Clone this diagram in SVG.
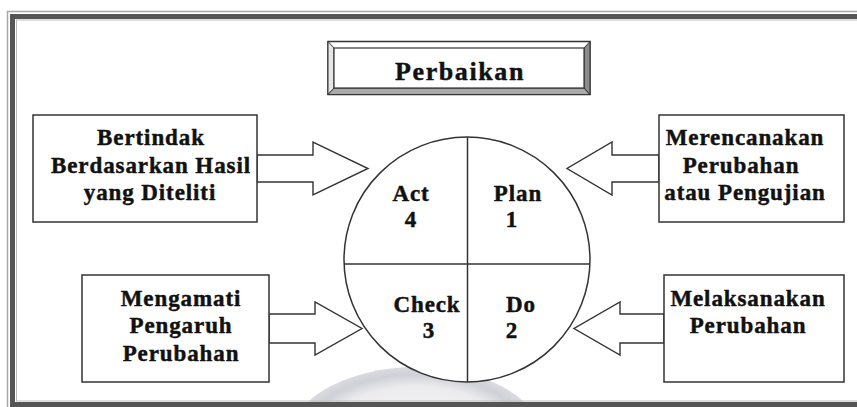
<svg xmlns="http://www.w3.org/2000/svg" width="857" height="407" viewBox="0 0 857 407">
<style>
.box{fill:#fff;stroke:#333;stroke-width:1.5}
.arr{fill:#fff;stroke:#333;stroke-width:1.4;stroke-linejoin:miter}
.t{font-family:"Liberation Serif","Times New Roman",serif;font-weight:bold;font-size:23px;fill:#111;stroke:#111;stroke-width:0.45px;text-anchor:middle;letter-spacing:0.9px}
.ln{stroke:#333;stroke-width:1.5;fill:none}
</style>
<defs>
<radialGradient id="wm" cx="416" cy="445" r="130" gradientUnits="userSpaceOnUse" gradientTransform="translate(416 445) scale(1 0.6) translate(-416 -445)">
<stop offset="0" stop-color="#f6f6f7"/>
<stop offset="0.75" stop-color="#ececee"/>
<stop offset="0.9" stop-color="#cfd1d8"/>
<stop offset="1" stop-color="#d9dbe0"/>
</radialGradient>
</defs>
<rect width="857" height="407" fill="#fff"/>
<g id="watermark">
<ellipse cx="416" cy="445" rx="130" ry="78" fill="url(#wm)"/>
</g>
<g id="frame">
<rect x="7.5" y="11.5" width="900" height="400" fill="none" stroke="#a8a8a8" stroke-width="1.5"/>
<rect x="12.5" y="16.5" width="900" height="388" fill="none" stroke="#555" stroke-width="5"/>
<rect x="16.5" y="20" width="900" height="381" fill="none" stroke="#bbb" stroke-width="1"/>
</g>
<g id="title">
<rect x="328" y="41.5" width="262" height="53" fill="#fff" stroke="#333" stroke-width="1.5"/>
<polygon points="328,41.5 334,48 334,88 328,94.5" fill="#e6e6e6" stroke="#333" stroke-width="1"/>
<polygon points="328,94.5 334,88 584,88 590,94.5" fill="#aaa" stroke="#333" stroke-width="1"/>
<polygon points="590,41.5 584,48 584,88 590,94.5" fill="#8a8a8a" stroke="#333" stroke-width="1"/>
<rect x="334" y="48" width="250" height="40" fill="#fff" stroke="#333" stroke-width="1.2"/>
<text class="t" x="460" y="80" style="font-size:26px;letter-spacing:1.6px">Perbaikan</text>
</g>
<g id="connectors">
<polygon class="arr" points="257,155 313,155 313,142 368,168.5 313,195 313,182 257,182"/>
<polygon class="arr" points="659,155 612,155 612,142 567,168.5 612,195 612,182 659,182"/>
<polygon class="arr" points="269,314 315,314 315,302 362,328.5 315,355 315,343 269,343"/>
<polygon class="arr" points="664,314 620,314 620,302 574,328.5 620,355 620,343 664,343"/>
</g>
<g id="box-act">
<rect class="box" x="33" y="115" width="224" height="107"/>
<text class="t" x="151" y="145">Bertindak</text>
<text class="t" x="151" y="173">Berdasarkan Hasil</text>
<text class="t" x="150" y="200">yang Diteliti</text>
</g>
<g id="box-plan">
<rect class="box" x="659" y="115" width="185" height="107"/>
<text class="t" x="745" y="145">Merencanakan</text>
<text class="t" x="741" y="173">Perubahan</text>
<text class="t" x="745" y="200">atau Pengujian</text>
</g>
<g id="box-check">
<rect class="box" x="82" y="275" width="187" height="107"/>
<text class="t" x="181" y="306">Mengamati</text>
<text class="t" x="181" y="333">Pengaruh</text>
<text class="t" x="181" y="361">Perubahan</text>
</g>
<g id="box-do">
<rect class="box" x="664" y="275" width="180" height="107"/>
<text class="t" x="748" y="306">Melaksanakan</text>
<text class="t" x="748" y="333">Perubahan</text>
</g>
<g id="cycle">
<ellipse cx="467" cy="259.5" rx="123" ry="122.5" fill="#fff" stroke="#333" stroke-width="1.5"/>
<line class="ln" x1="344.1" y1="264" x2="589.9" y2="264"/>
<line class="ln" x1="467.5" y1="137" x2="467.5" y2="382"/>
<text class="t" x="411" y="201">Act</text>
<text class="t" x="411" y="227">4</text>
<text class="t" x="518" y="201">Plan</text>
<text class="t" x="512" y="227">1</text>
<text class="t" x="427" y="312">Check</text>
<text class="t" x="429" y="338">3</text>
<text class="t" x="521" y="312">Do</text>
<text class="t" x="512" y="338">2</text>
</g>
</svg>
